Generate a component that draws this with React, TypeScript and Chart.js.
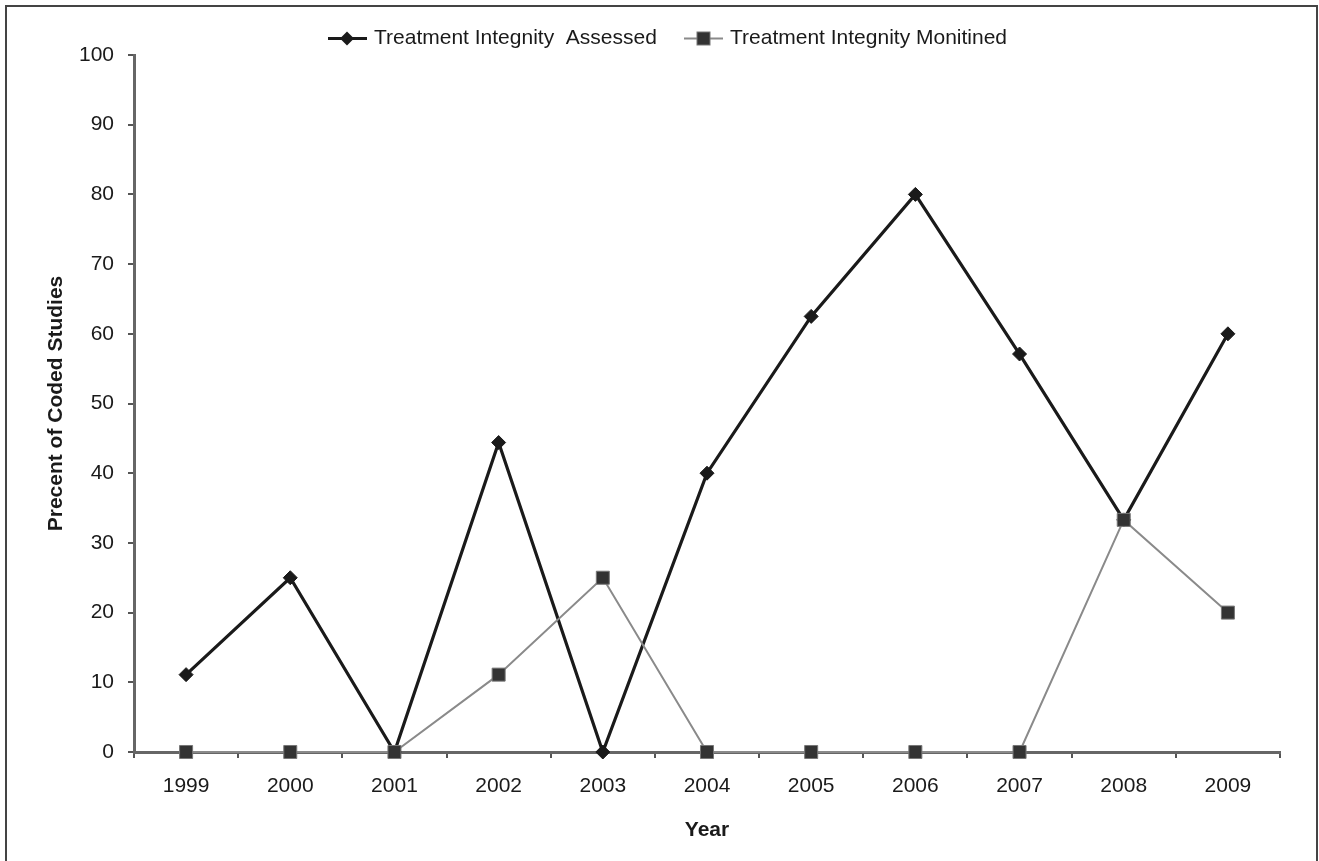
import React, { useEffect, useRef } from "react";
import { Chart, registerables } from "chart.js";

Chart.register(...registerables);

const years = ["1999", "2000", "2001", "2002", "2003", "2004", "2005", "2006", "2007", "2008", "2009"];
const assessed = [11.1, 25, 0, 44.4, 0, 40, 62.5, 80, 57.1, 33.3, 60];
const monitored = [0, 0, 0, 11.1, 25, 0, 0, 0, 0, 33.3, 20];
const seriesNames = ["Treatment Integnity  Assessed", "Treatment Integnity Monitined"];
const yTitle = "Precent of Coded Studies";
const xTitle = "Year";

const FONT = "'Liberation Sans', Arial, Helvetica, sans-serif";

const decorPlugin = {
  id: "decor",
  afterDraw(chart: any) {
    const ctx = chart.ctx;
    const area = chart.chartArea;
    ctx.save();
    // frame (left, top, right)
    ctx.strokeStyle = "#444";
    ctx.lineWidth = 2;
    ctx.beginPath();
    ctx.moveTo(6, 861);
    ctx.lineTo(6, 6);
    ctx.lineTo(1317, 6);
    ctx.lineTo(1317, 861);
    ctx.stroke();

    // legend
    const ly = 38.5;
    // item 1
    ctx.strokeStyle = "#1a1a1a";
    ctx.lineWidth = 3;
    ctx.beginPath();
    ctx.moveTo(328, ly);
    ctx.lineTo(367, ly);
    ctx.stroke();
    ctx.fillStyle = "#1a1a1a";
    ctx.beginPath();
    ctx.moveTo(347, ly - 7);
    ctx.lineTo(354, ly);
    ctx.lineTo(347, ly + 7);
    ctx.lineTo(340, ly);
    ctx.closePath();
    ctx.fill();
    // item 2
    ctx.strokeStyle = "#8a8a8a";
    ctx.lineWidth = 2;
    ctx.beginPath();
    ctx.moveTo(684, ly);
    ctx.lineTo(723, ly);
    ctx.stroke();
    ctx.fillStyle = "#333";
    ctx.fillRect(697, ly - 6.5, 13, 13);
    ctx.strokeStyle = "#777";
    ctx.lineWidth = 1;
    ctx.strokeRect(697, ly - 6.5, 13, 13);

    ctx.fillStyle = "#1a1a1a";
    ctx.font = `21px ${FONT}`;
    ctx.textBaseline = "middle";
    ctx.textAlign = "left";
    ctx.fillText(seriesNames[0], 374, ly);
    ctx.fillText(seriesNames[1], 730, ly);

    // axis titles
    ctx.font = `bold 21px ${FONT}`;
    ctx.textAlign = "center";
    ctx.fillText(xTitle, (area.left + area.right) / 2, 830);
    ctx.translate(56, (area.top + area.bottom) / 2);
    ctx.rotate(-Math.PI / 2);
    ctx.fillText(yTitle, 0, 0);
    ctx.restore();
  },
};

export default function App() {
  const ref = useRef<HTMLCanvasElement | null>(null);
  useEffect(() => {
    if (!ref.current) return;
    const chart = new Chart(ref.current, {
      type: "line",
      data: {
        labels: years,
        datasets: [
          {
            label: seriesNames[1],
            data: monitored,
            borderColor: "#8a8a8a",
            borderWidth: 2,
            pointStyle: "rect",
            pointRadius: 9.2,
            pointHoverRadius: 9.2,
            pointBackgroundColor: "#333",
            pointBorderColor: "#777",
            pointBorderWidth: 1,
            tension: 0,
            clip: false as any,
          },
          {
            label: seriesNames[0],
            data: assessed,
            borderColor: "#1a1a1a",
            borderWidth: 3.2,
            pointStyle: "rectRot",
            pointRadius: 7,
            pointHoverRadius: 7,
            pointBackgroundColor: "#1a1a1a",
            pointBorderColor: "#1a1a1a",
            pointBorderWidth: 1,
            tension: 0,
            clip: false as any,
          },
        ],
      },
      options: {
        responsive: false,
        animation: false,
        layout: { padding: { top: 55, left: 0, right: 39, bottom: 0 } },
        plugins: {
          legend: { display: false },
          tooltip: { enabled: false },
        },
        scales: {
          x: {
            offset: true,
            afterFit: (s: any) => {
              s.height = 109;
            },
            grid: {
              offset: true,
              drawOnChartArea: false,
              drawTicks: true,
              tickLength: 6,
              tickColor: "#555",
              lineWidth: 2,
            },
            border: { color: "#666", width: 3 },
            ticks: {
              color: "#1a1a1a",
              font: { size: 21, family: FONT },
              padding: 16,
              maxRotation: 0,
            },
          },
          y: {
            min: 0,
            max: 100,
            afterFit: (s: any) => {
              s.width = 134;
            },
            grid: {
              drawOnChartArea: false,
              drawTicks: true,
              tickLength: 6,
              tickColor: "#555",
              lineWidth: 2,
            },
            border: { color: "#666", width: 3 },
            ticks: {
              stepSize: 10,
              color: "#1a1a1a",
              font: { size: 21, family: FONT },
              padding: 14,
            },
          },
        },
      },
      plugins: [decorPlugin],
    });
    return () => chart.destroy();
  }, []);
  return (
    <div style={{ position: "fixed", left: 0, top: 0, width: 1319, height: 861, background: "#fff" }}>
      <canvas ref={ref} width={1319} height={861} />
    </div>
  );
}
